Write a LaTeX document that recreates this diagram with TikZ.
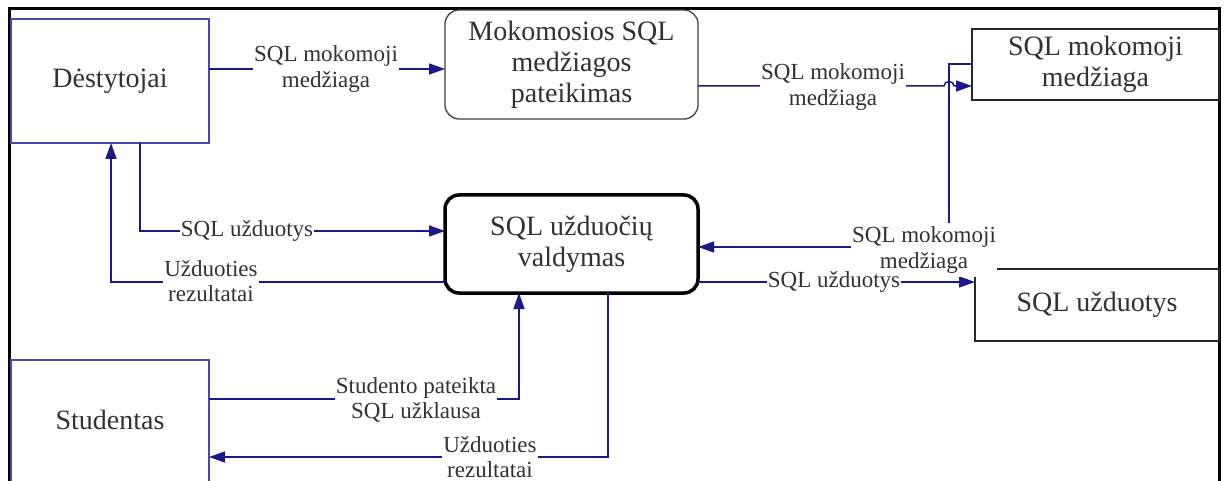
\documentclass[tikz,border=0pt]{standalone}
\usepackage{fontspec}
\setmainfont{Liberation Serif}
\usetikzlibrary{arrows.meta}
\definecolor{flowblue}{RGB}{25,25,140}
\definecolor{entblue}{RGB}{72,72,175}
\definecolor{ink}{RGB}{50,50,50}
\newcommand\boxfont{\fontsize{28}{31}\selectfont}
\newcommand\lblfont{\fontsize{23}{25.5}\selectfont}
\tikzset{
  base/.style={outer sep=0pt, inner sep=0pt, align=center, text=ink, font=\boxfont},
  entity/.style={base, draw=entblue, line width=2pt},
  process/.style={base, draw=black!75, line width=1.3pt, rounded corners=14pt},
  mainproc/.style={base, draw=black, line width=3.5pt, rounded corners=14pt},
  store/.style={base, draw=black!85, line width=1.3pt},
  flow/.style={draw=flowblue, line width=1.5pt, -{Triangle[length=16pt,width=11pt]}},
  flowlabel/.style={fill=white, inner sep=1pt, align=center, text=ink, font=\lblfont},
}
\begin{document}
\begin{tikzpicture}[x=1pt,y=-1pt]
\useasboundingbox (0,0) rectangle (1224,481);
\clip (0,0) rectangle (1224,481);
\fill[white] (0,0) rectangle (1224,481);

% outer frame (open at the bottom)
\draw[line width=3pt] (9,500) -- (9,8.5) -- (1219.5,8.5) -- (1219.5,500);

% external entities, processes and data stores
\node[entity, minimum width=198pt, minimum height=124pt] (dest) at (110,81) {Dėstytojai};
\node[process, minimum width=253pt, minimum height=109pt] (mok) at (571.5,64.5) {Mokomosios SQL\\medžiagos\\pateikimas};
\node[store, minimum width=247pt, minimum height=71pt] (smm) at (1095.5,64.5) {SQL mokomoji\\medžiaga};
\node[mainproc, minimum width=253pt, minimum height=98pt] (val) at (571.5,244) {SQL užduočių\\valdymas};
\node[store, minimum width=244pt, minimum height=72pt] (su) at (1097,305) {SQL užduotys};
\node[entity, minimum width=198pt, minimum height=140pt,
      label={[base, name=studtxt, yshift=10pt]center:Studentas}] (stud) at (110,430) {};

% routing points of the flows
\coordinate (k1) at (0,69);
\coordinate (k2) at (949,86);
\coordinate (k3a) at (949,64);
\coordinate (k3b) at (949,247);
\coordinate (k4) at (140,231);
\coordinate (k5) at (111,282);
\coordinate (k6) at (0,282);
\coordinate (k7) at (519,399);
\coordinate (k8) at (608,457);

% data flows
\draw[flow] (dest.east |- k1) -- (mok.west |- k1);
\draw[flow] (mok.east |- k2) -- ([xshift=-5pt]k2)
  .. controls ([xshift=-5pt,yshift=6pt]k2) and ([xshift=5pt,yshift=6pt]k2) .. ([xshift=5pt]k2)
  -- (smm.west |- k2);
\draw[flow] (smm.west |- k3a) -- (k3a) -- (k3b) -- (val.east |- k3b);
\draw[flow] (k4 |- dest.south) -- (k4) -- (val.west |- k4);
\draw[flow] (val.west |- k5) -- (k5) -- (k5 |- dest.south);
\draw[flow] (val.east |- k6) -- (su.west |- k6);
\draw[flow] (stud.east |- k7) -- (k7) -- (k7 |- val.south);
\draw[flow] (k8 |- val.south) -- (k8) -- (stud.east |- k8);

% flow labels
\node[flowlabel] (l1) at (326,69) {SQL mokomoji\\medžiaga};
\node[flowlabel] (l2) at (833,87) {SQL mokomoji\\medžiaga};
\node[flowlabel] (l3) at (247,231) {SQL užduotys};
\node[flowlabel] (l4) at (211,281) {Užduoties\\rezultatai};
\node[flowlabel, inner ysep=4pt] (l5) at (924,250) {SQL mokomoji\\medžiaga};
\node[flowlabel] (l6) at (834,282) {SQL užduotys};
\node[flowlabel] (l7) at (416,400) {Studento pateikta\\SQL užklausa};
\node[flowlabel] (l8) at (490,457) {Užduoties\\rezultatai};
\end{tikzpicture}
\end{document}
